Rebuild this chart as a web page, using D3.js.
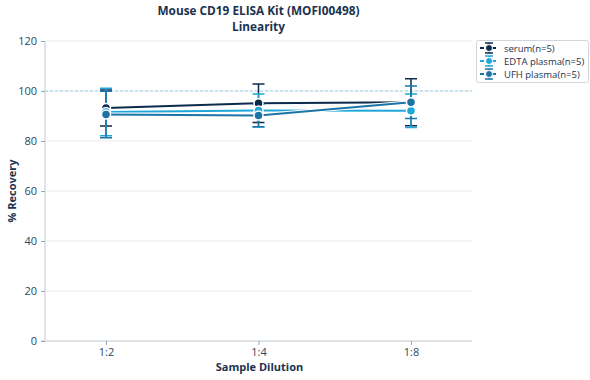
<!DOCTYPE html>
<html><head><meta charset="utf-8">
<script src="https://cdn.jsdelivr.net/npm/d3@7"></script>
<style>body{margin:0;background:#fff;font-family:"Open Sans","Noto Sans",sans-serif;}</style>
</head><body><svg id="c" width="590" height="380"></svg>
<script>
const categories = ["1:2","1:4","1:8"];
const seriesNames = ["serum(n=5)","EDTA plasma(n=5)","UFH plasma(n=5)"];
const serum = [93.2, 95.1, 95.5];
const serumErr = [7.2, 7.7, 9.4];
const edta = [91.6, 92.2, 92.1];
const edtaErr = [9.5, 6.6, 6.7];
const ufh = [90.6, 90.2, 95.5];
const ufhErr = [9.3, 4.5, 6.5];
const yTicks = [0,20,40,60,80,100,120];
const colors = ["#0c2b4b","#1ea7d8","#1c74a6"];

const svg = d3.select("#c");
const m = {l:45, r:118, t:41, b:39};
const W = 590, H = 380;
const x = d3.scalePoint().domain(categories).range([m.l, W-m.r]).padding(0.4);
const y = d3.scaleLinear().domain([0,120]).range([H-m.b, m.t]);

// grid
svg.append("g").selectAll("line").data(yTicks.filter(t=>t>0)).join("line")
  .attr("x1", m.l).attr("x2", W-m.r).attr("y1", d=>y(d)).attr("y2", d=>y(d))
  .attr("stroke", "#e8ebef").attr("stroke-width", 1);
// reference line 100
svg.append("line").attr("x1", m.l).attr("x2", W-m.r).attr("y1", y(100)).attr("y2", y(100))
  .attr("stroke", "#9fd3e6").attr("stroke-width", 1).attr("stroke-dasharray", "3,2");

// axes
const yAxis = svg.append("g").attr("transform", `translate(${m.l},0)`)
  .call(d3.axisLeft(y).tickValues(yTicks).tickSize(4).tickPadding(4));
const xAxis = svg.append("g").attr("transform", `translate(0,${H-m.b})`)
  .call(d3.axisBottom(x).tickSize(4).tickPadding(3));
[yAxis, xAxis].forEach(a=>{
  a.select(".domain").attr("stroke", "#d5dbe2").attr("stroke-width", 1.5);
  a.selectAll(".tick line").attr("stroke", "#9aa6b2");
  a.selectAll("text").attr("fill", "#2b4763").style("font-size", "11px")
   .style("font-family", '"Open Sans","Noto Sans",sans-serif');
});
yAxis.select(".domain").attr("d", `M-4,${y(0)}H0V${y(120)}`);
xAxis.select(".domain").attr("d", `M${m.l},0H${W-m.r}`);

// series
const data = [
  {name: seriesNames[0], vals: serum, err: serumErr, c: colors[0]},
  {name: seriesNames[1], vals: edta, err: edtaErr, c: colors[1]},
  {name: seriesNames[2], vals: ufh, err: ufhErr, c: colors[2]},
];
const line = d3.line().x((d,i)=>x(categories[i])).y(d=>y(d));
data.forEach(s=>{
  const g = svg.append("g");
  g.append("path").attr("d", line(s.vals)).attr("fill","none").attr("stroke","#fff").attr("stroke-width",4);
  g.append("path").attr("d", line(s.vals)).attr("fill","none").attr("stroke",s.c).attr("stroke-width",2);
});
data.forEach(s=>{
  const g = svg.append("g");
  s.vals.forEach((v,i)=>{
    const cx = x(categories[i]);
    const hi = y(v + s.err[i]), lo = y(v - s.err[i]);
    g.append("line").attr("x1",cx).attr("x2",cx).attr("y1",hi).attr("y2",lo).attr("stroke",s.c).attr("stroke-width",1.5);
    [hi, lo].forEach(yy=>g.append("line").attr("x1",cx-6).attr("x2",cx+6).attr("y1",yy).attr("y2",yy).attr("stroke",s.c).attr("stroke-width",1.5));
  });
});
data.forEach(s=>{
  svg.append("g").selectAll("circle").data(s.vals).join("circle")
    .attr("cx",(d,i)=>x(categories[i])).attr("cy",d=>y(d)).attr("r",4.5)
    .attr("fill",s.c).attr("stroke","#fff").attr("stroke-width",1.5);
});

// titles
const tf = '"Open Sans","Noto Sans",sans-serif';
const tx = (m.l + W - m.r)/2;
svg.append("text").attr("x",tx).attr("y",15).attr("text-anchor","middle")
  .style("font-family",tf).style("font-weight","bold").style("font-size","11.8px").attr("fill","#1b3250")
  .text("Mouse CD19 ELISA Kit (MOFI00498)");
svg.append("text").attr("x",tx).attr("y",31).attr("text-anchor","middle")
  .style("font-family",tf).style("font-weight","bold").style("font-size","11.8px").attr("fill","#1b3250")
  .text("Linearity");
svg.append("text").attr("x",tx+1).attr("y",371).attr("text-anchor","middle")
  .style("font-family",tf).style("font-weight","bold").style("font-size","11px").attr("fill","#1b3250")
  .text("Sample Dilution");
svg.append("text").attr("transform",`translate(16,${(y(0)+y(120))/2}) rotate(-90)`).attr("text-anchor","middle")
  .style("font-family",tf).style("font-weight","bold").style("font-size","11px").attr("fill","#1b3250")
  .text("% Recovery");

// legend
const lg = svg.append("g").attr("transform","translate(476,40)");
lg.append("rect").attr("x",0.5).attr("y",0.5).attr("width",112).attr("height",42).attr("rx",2)
  .attr("fill","#fff").attr("stroke","#d0d6dd");
data.forEach((s,i)=>{
  const gy = 8 + i*13;
  const r = lg.append("g").attr("transform",`translate(0,${gy})`);
  r.append("line").attr("x1",4).attr("x2",22).attr("y1",0).attr("y2",0).attr("stroke",s.c).attr("stroke-width",2).attr("stroke-dasharray","4,2");
  r.append("line").attr("x1",13).attr("x2",13).attr("y1",-5).attr("y2",5).attr("stroke",s.c).attr("stroke-width",1.5);
  [-5,5].forEach(d=>r.append("line").attr("x1",9).attr("x2",17).attr("y1",d).attr("y2",d).attr("stroke",s.c).attr("stroke-width",1.5));
  r.append("circle").attr("cx",13).attr("cy",0).attr("r",3.5).attr("fill",s.c).attr("stroke","#fff").attr("stroke-width",1);
  r.append("text").attr("x",28).attr("y",3.5).style("font-family",tf).style("font-size","9.5px").attr("fill","#1b3250").text(s.name);
});
</script></body></html>
